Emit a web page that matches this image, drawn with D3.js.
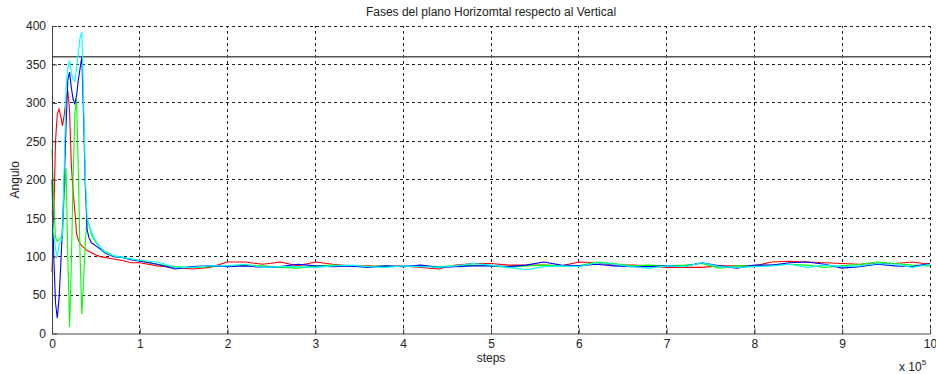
<!DOCTYPE html>
<html>
<head>
<meta charset="utf-8">
<script src="https://cdn.jsdelivr.net/npm/d3@7"></script>
<style>
  body { margin: 0; background: #fff; }
  text { font-family: "Liberation Sans", Arial, sans-serif; fill: #222; }
</style>
</head>
<body>
<div id="chart"></div>
<script>
    // data (x in units of 10^5 steps)

    const steps = [0, 0.02, 0.04, 0.06, 0.08, 0.10, 0.12, 0.14, 0.16, 0.18, 0.20, 0.22, 0.24, 0.26, 0.28, 0.30,
        0.32, 0.34, 0.36, 0.38, 0.40, 0.42, 0.45, 0.50, 0.55, 0.60, 0.70, 0.80, 0.90, 1.0,
        1.2, 1.4, 1.6, 1.8, 2.0, 2.2, 2.4, 2.6, 2.8, 3.0, 3.2, 3.4, 3.6, 3.8, 4.0, 4.2, 4.4, 4.6, 4.8, 5.0,
        5.2, 5.4, 5.6, 5.8, 6.0, 6.2, 6.4, 6.6, 6.8, 7.0, 7.2, 7.4, 7.6, 7.8, 8.0, 8.2, 8.4, 8.6, 8.8, 9.0,
        9.2, 9.4, 9.6, 9.8, 10.0]

    const redPhase = [80, 150, 250, 285, 292, 282, 270, 285, 305, 316, 290, 220, 185, 160, 130, 122,
        117, 114, 112, 110, 108, 107, 105, 102, 100, 99, 97, 95, 92, 92,
        88, 86, 84, 86, 93, 93, 90, 93, 88, 93, 90, 88, 88, 87, 88, 86, 84, 89, 91, 91,
        89, 89, 89, 88, 93, 92, 89, 89, 88, 86, 86, 86, 88, 88, 88, 93, 94, 93, 92, 91,
        90, 91, 91, 93, 90]

    const greenPhase = [240, 170, 125, 120, 122, 125, 125, 180, 215, 100, 8, 90, 200, 285, 305, 210,
        100, 25, 70, 120, 150, 142, 128, 118, 112, 107, 101, 99, 97, 95,
        90, 87, 86, 87, 88, 89, 88, 86, 85, 88, 89, 88, 87, 88, 87, 88, 87, 88, 89, 88,
        86, 88, 89, 88, 88, 93, 91, 88, 89, 88, 89, 91, 85, 88, 88, 89, 90, 89, 86, 88,
        90, 93, 91, 89, 88]

    const bluePhase = [200, 100, 40, 20, 45, 90, 140, 200, 270, 330, 340, 320, 305, 298, 310, 330,
        345, 360, 280, 190, 135, 125, 118, 114, 110, 105, 100, 99, 96, 94,
        90, 84, 87, 88, 87, 88, 86, 87, 90, 88, 87, 88, 86, 88, 87, 89, 86, 87, 88, 88,
        87, 89, 93, 89, 88, 90, 88, 87, 87, 88, 87, 92, 88, 85, 89, 89, 92, 93, 90, 85,
        87, 90, 88, 87, 91]

    const cyanPhase = [160, 130, 110, 100, 115, 120, 130, 220, 320, 345, 355, 340, 330, 328, 345, 365,
        385, 392, 300, 200, 150, 142, 132, 120, 112, 106, 101, 99, 97, 95,
        93, 86, 86, 88, 88, 90, 86, 87, 87, 86, 88, 89, 87, 86, 88, 87, 86, 88, 91, 89,
        86, 83, 87, 88, 87, 92, 90, 87, 85, 88, 87, 92, 87, 86, 87, 88, 90, 86, 89, 87,
        88, 91, 90, 86, 90]

    const seriesNames = ["red", "green", "blue", "cyan"]
    const seriesColors = ["#ff0000", "#00ff00", "#0000ff", "#00ffff"]
    const seriesValues = [redPhase, greenPhase, bluePhase, cyanPhase]

    const refAngle = 360
    const xTicks = [0, 1, 2, 3, 4, 5, 6, 7, 8, 9, 10]
    const yTicks = [0, 50, 100, 150, 200, 250, 300, 350, 400]

    // layout

    const width = 936
    const height = 374
    const margin = {top: 26, right: 6, bottom: 40.5, left: 52}
    const fontSize = 12

    const svg = d3.select("#chart")
        .append("svg")
        .attr("width", width)
        .attr("height", height)

    const xScale = d3.scaleLinear()
        .domain([0, 10])
        .range([margin.left, width - margin.right])

    const yScale = d3.scaleLinear()
        .domain([0, 400])
        .range([height - margin.bottom, margin.top])

    // grid (dotted matlab style)

    svg.append("g")
        .selectAll("line")
        .data(xTicks.slice(1))
        .join("line")
        .attr("x1", d => xScale(d))
        .attr("x2", d => xScale(d))
        .attr("y1", yScale(0))
        .attr("y2", yScale(400))
        .attr("stroke", "#222")
        .attr("stroke-dasharray", "3,3")
        .attr("shape-rendering", "crispEdges")

    svg.append("g")
        .selectAll("line")
        .data(yTicks.slice(1))
        .join("line")
        .attr("x1", xScale(0))
        .attr("x2", xScale(10))
        .attr("y1", d => yScale(d))
        .attr("y2", d => yScale(d))
        .attr("stroke", "#222")
        .attr("stroke-dasharray", "3,3")
        .attr("shape-rendering", "crispEdges")

    // reference line at 360

    svg.append("line")
        .attr("x1", xScale(0))
        .attr("x2", xScale(10))
        .attr("y1", yScale(refAngle))
        .attr("y2", yScale(refAngle))
        .attr("stroke", "#555")
        .attr("stroke-width", 1.5)

    // series

    const line = d3.line()
        .x((d, i) => xScale(steps[i]))
        .y(d => yScale(d))

    svg.append("g")
        .selectAll("path")
        .data(seriesValues)
        .join("path")
        .attr("class", (d, i) => "series " + seriesNames[i])
        .attr("d", line)
        .attr("fill", "none")
        .attr("stroke", (d, i) => seriesColors[i])
        .attr("stroke-width", 1.1)

    // axes

    const xAxis = d3.axisBottom(xScale)
        .tickValues(xTicks)
        .tickFormat(d3.format("d"))
        .tickSizeInner(-5)
        .tickSizeOuter(0)
        .tickPadding(6)

    const yAxis = d3.axisLeft(yScale)
        .tickValues(yTicks)
        .tickSizeInner(-5)
        .tickSizeOuter(0)
        .tickPadding(6)

    const gx = svg.append("g")
        .attr("transform", `translate(0,${yScale(0)})`)
        .call(xAxis)

    const gy = svg.append("g")
        .attr("transform", `translate(${xScale(0)},0)`)
        .call(yAxis)

    for (const g of [gx, gy]) {
        g.select(".domain").attr("stroke", "#444")
        g.selectAll(".tick line").attr("stroke", "#444")
        g.selectAll(".tick text")
            .attr("font-family", "'Liberation Sans', Arial, sans-serif")
            .attr("font-size", fontSize)
            .attr("fill", "#222")
    }

    // labels

    svg.append("text")
        .attr("x", (xScale(0) + xScale(10)) / 2)
        .attr("y", 16)
        .attr("text-anchor", "middle")
        .attr("font-size", fontSize)
        .text("Fases del plano Horizomtal respecto al Vertical")

    svg.append("text")
        .attr("x", (xScale(0) + xScale(10)) / 2)
        .attr("y", 362)
        .attr("text-anchor", "middle")
        .attr("font-size", fontSize)
        .text("steps")

    svg.append("text")
        .attr("transform", `translate(19,${(yScale(0) + yScale(400)) / 2}) rotate(-90)`)
        .attr("text-anchor", "middle")
        .attr("font-size", fontSize)
        .text("Angulo")

    const expo = svg.append("text")
        .attr("x", 899)
        .attr("y", 371)
        .attr("font-size", fontSize)
    expo.append("tspan").text("x 10")
    expo.append("tspan")
        .attr("dy", -6)
        .attr("font-size", 8)
        .text("5")
</script>
</body>
</html>
